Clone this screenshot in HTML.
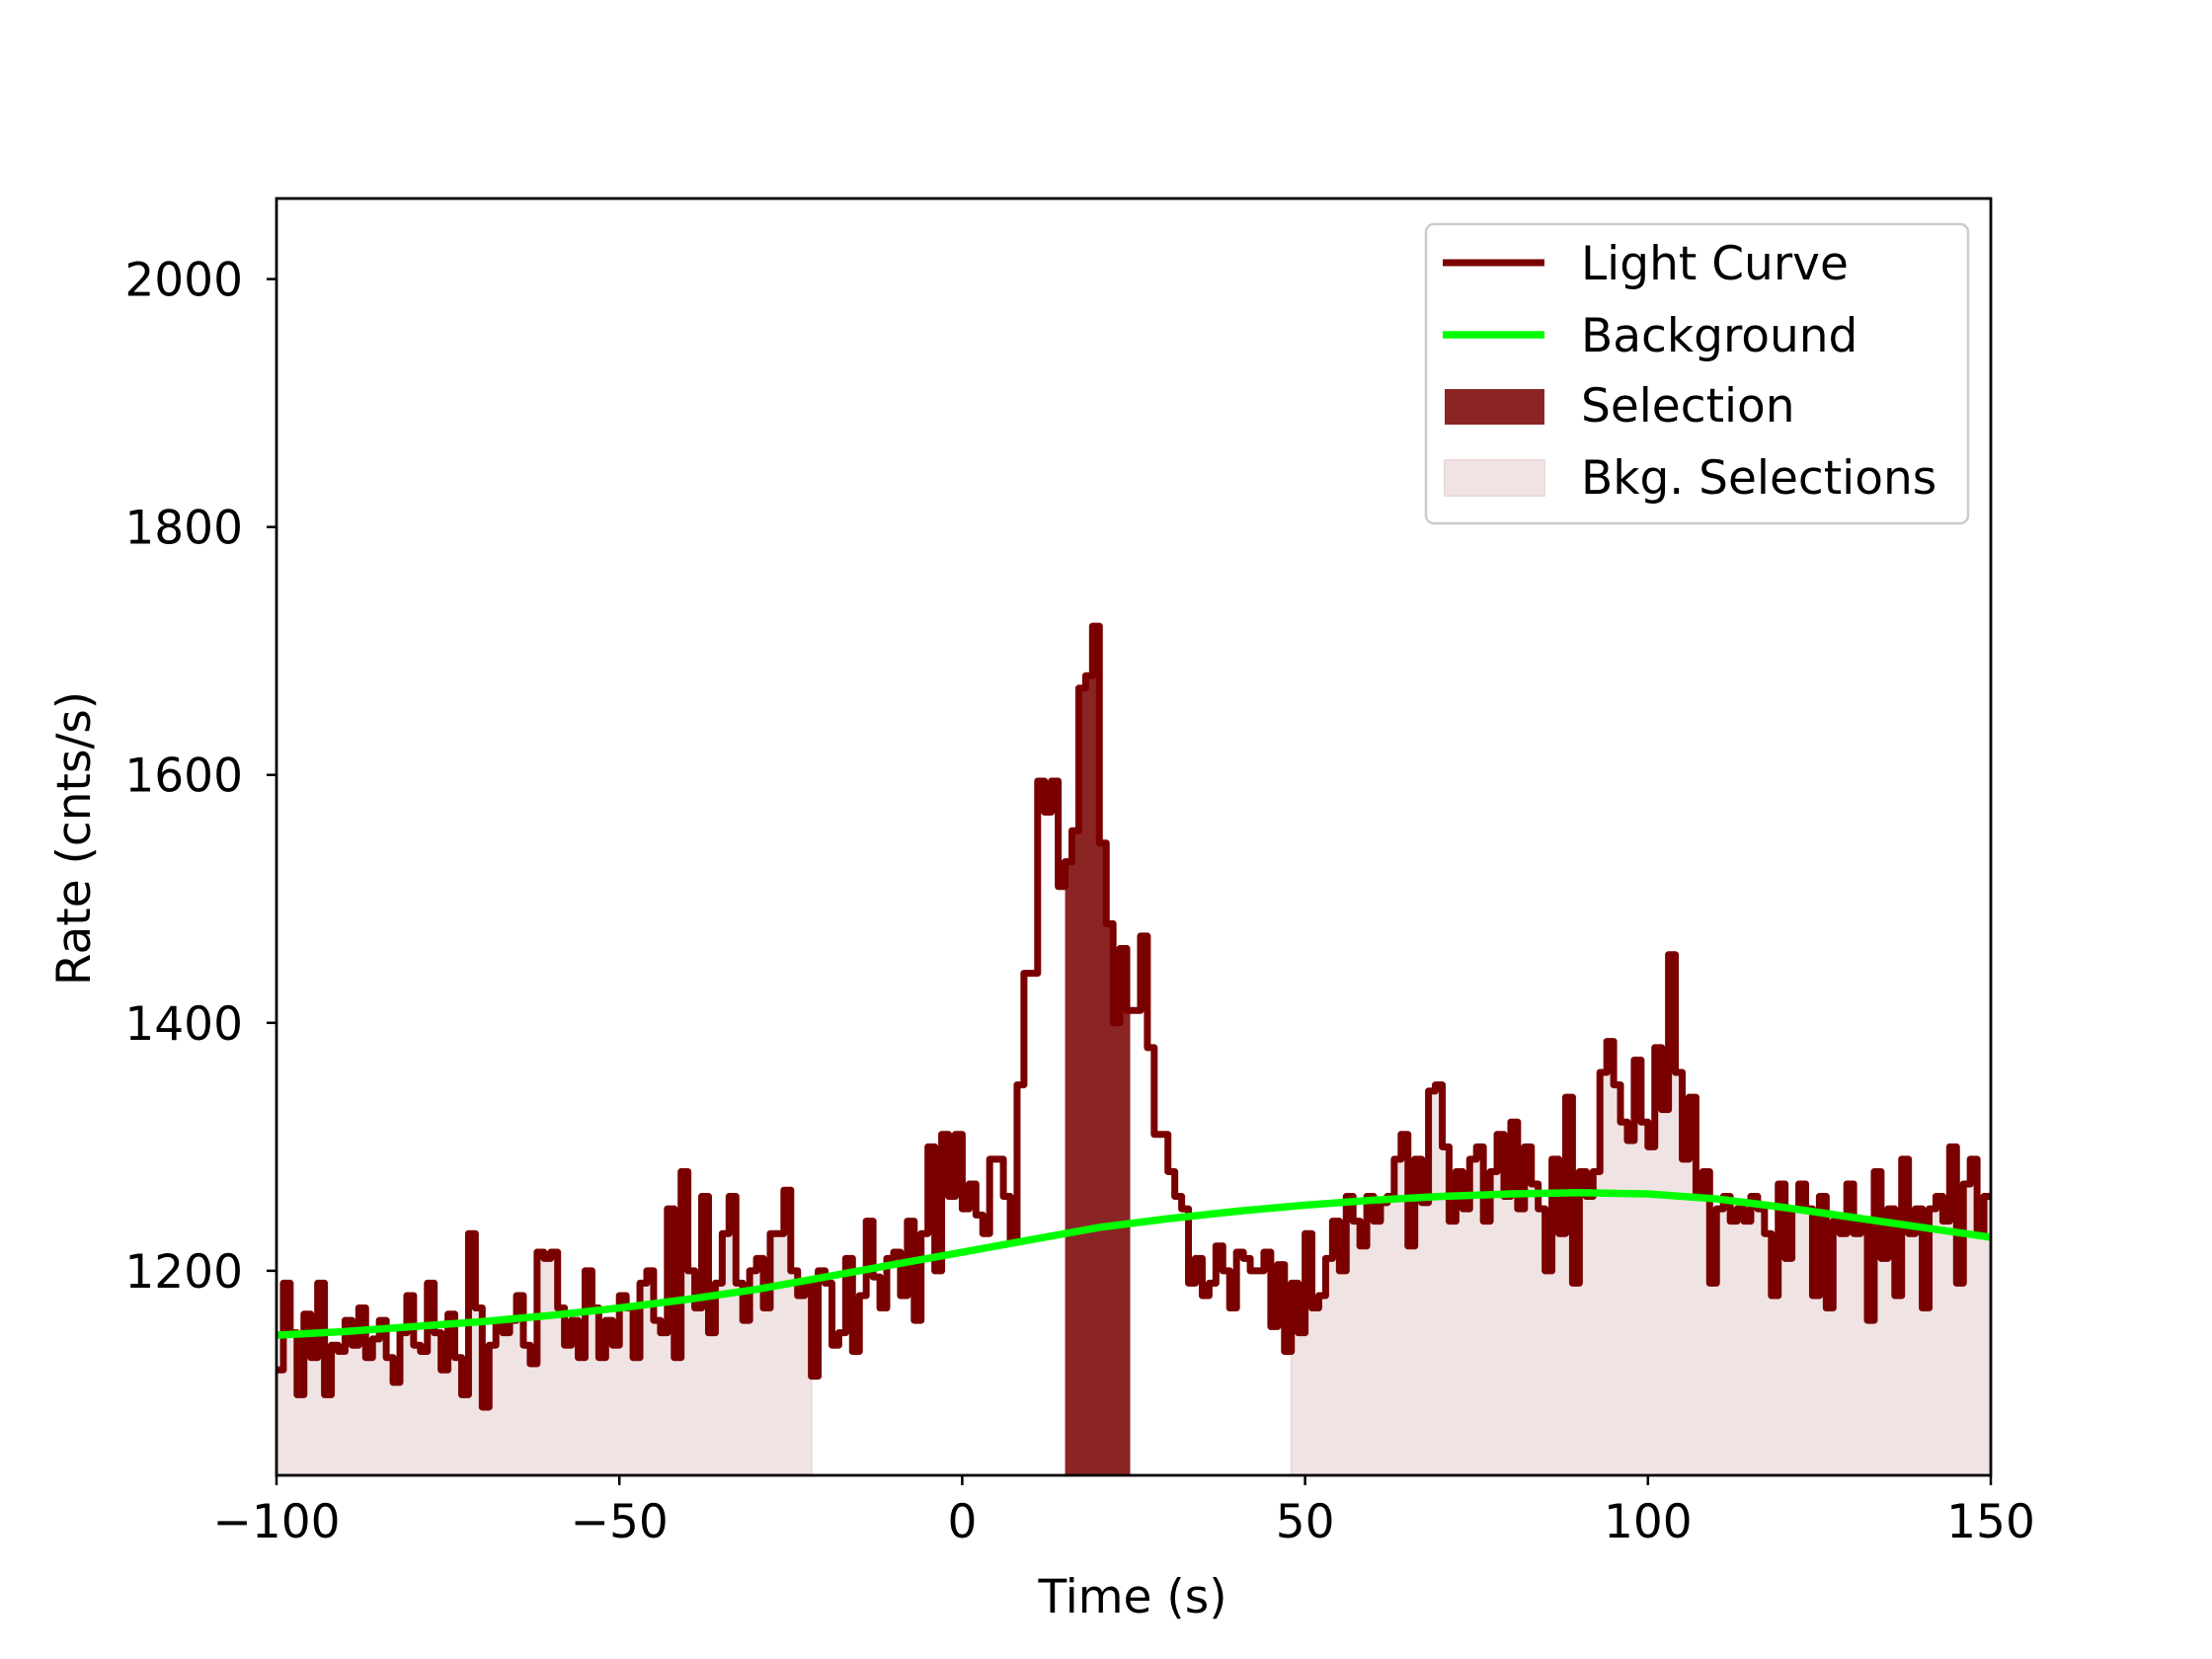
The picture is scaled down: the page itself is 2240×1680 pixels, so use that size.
<!DOCTYPE html>
<html><head><meta charset="utf-8"><style>
body{margin:0;background:#fff;}
svg{display:block;font-family:"DejaVu Sans","Liberation Sans",sans-serif;}
</style></head><body>
<svg id="chart" width="2240" height="1680" viewBox="0 0 2240 1680">
<rect width="2240" height="1680" fill="#fff"/>
<g id="plot"></g>
</svg>
<script>
const binStart = -100;
const binWidth = 1;
const rates = [
1120,1190,1150,1100,1165,1130,1190,1100,1140,1135,
1160,1140,1170,1130,1145,1160,1130,1110,1150,1180,
1140,1135,1190,1150,1120,1165,1130,1100,1230,1170,
1090,1140,1160,1150,1160,1180,1140,1125,1215,1210,
1215,1170,1140,1160,1130,1200,1170,1130,1160,1140,
1180,1170,1130,1190,1200,1160,1150,1250,1130,1280,
1200,1170,1260,1150,1190,1230,1260,1190,1160,1200,
1210,1170,1230,1230,1265,1200,1180,1190,1115,1200,
1190,1140,1150,1210,1135,1180,1240,1195,1170,1210,
1215,1180,1240,1160,1230,1300,1200,1310,1260,1310,
1250,1270,1245,1230,1290,1290,1260,1225,1350,1440,
1440,1595,1570,1595,1510,1530,1555,1670,1680,1720,
1545,1480,1400,1460,1410,1410,1470,1380,1310,1310,
1280,1260,1250,1190,1210,1180,1190,1220,1200,1170,
1215,1210,1200,1200,1215,1155,1205,1135,1190,1150,
1230,1170,1180,1210,1240,1200,1260,1240,1220,1260,
1240,1255,1260,1290,1310,1220,1290,1255,1345,1350,
1300,1240,1280,1250,1290,1300,1240,1280,1310,1260,
1320,1250,1300,1270,1250,1200,1290,1230,1340,1190,
1280,1260,1280,1360,1385,1350,1320,1305,1370,1320,
1300,1380,1330,1455,1360,1290,1340,1260,1280,1190,
1250,1260,1240,1250,1240,1260,1250,1230,1180,1270,
1210,1250,1270,1250,1180,1260,1170,1240,1230,1270,
1230,1240,1160,1280,1210,1250,1180,1290,1230,1250,
1170,1250,1260,1240,1300,1190,1270,1290,1230,1260];
const bkgTimes = [-100,-90,-80,-70,-60,-50,-40,-30,-20,-10,0,10,20,30,40,50,60,70,80,90,100,110,120,130,140,150];
const bkgRates = [1148,1151,1155,1159,1164,1170,1177,1185,1195,1205,1215,1225,1235,1242,1248,1253,1257,1260,1262,1263,1262,1258,1251,1243,1235,1227];
const selection = [15,24.5];
const bkgSelections = [[-100,-22],[48,150]];
const xTicks = [-100,-50,0,50,100,150];
const yTicks = [1200,1400,1600,1800,2000];

const L=280,R=2016,T=201,B=1494,X0=-100,X1=150,Y0=1035,Y1=2065;
const xs=v=>L+(v-X0)/(X1-X0)*(R-L);
const ys=v=>B-(v-Y0)/(Y1-Y0)*(B-T);
const NS='http://www.w3.org/2000/svg';
const plot=document.getElementById('plot');
function mk(tag,attrs,parent){const e=document.createElementNS(NS,tag);for(const k in attrs)e.setAttribute(k,attrs[k]);(parent||plot).appendChild(e);return e;}

function fillPath(a,b){
  let d='M'+xs(a)+','+B;
  for(let i=0;i<rates.length;i++){
    const t0=binStart+i*binWidth,t1=t0+binWidth;
    const s=Math.max(t0,a),e=Math.min(t1,b);
    if(e<=s)continue;
    d+=' L'+xs(s)+','+ys(rates[i])+' L'+xs(e)+','+ys(rates[i]);
  }
  return d+' L'+xs(b)+','+B+' Z';
}
bkgSelections.forEach(r=>{
  const p=mk('path',{d:fillPath(r[0],r[1]),fill:'#f0e3e3',stroke:'#ecd9da','stroke-width':2});
  
  
});
const sel=mk('path',{d:fillPath(selection[0],selection[1]),fill:'#8b2525'});



let d='';
for(let i=0;i<rates.length;i++){
  const t0=binStart+i*binWidth,t1=t0+binWidth;
  d+=(i?' L':'M')+xs(t0)+','+ys(rates[i])+' L'+xs(t1)+','+ys(rates[i]);
}
const lc=mk('path',{d:d,fill:'none',stroke:'#7a0000','stroke-width':7,'stroke-linejoin':'round'});



const bg=mk('polyline',{points:bkgTimes.map((t,i)=>xs(t)+','+ys(bkgRates[i])).join(' '),fill:'none',stroke:'#00ff00','stroke-width':7.5});



const frame=mk('rect',{x:L,y:T,width:R-L,height:B-T,fill:'none',stroke:'#000','stroke-width':2.8});



xTicks.forEach(v=>{
  const x=xs(v);
  const tk=mk('line',{x1:x,y1:B,x2:x,y2:B+10,stroke:'#000','stroke-width':2.5});
  
  
  const tx=mk('text',{x:x,y:B+63,'text-anchor':'middle','font-size':47});
  tx.textContent=(v<0?'\u2212'+(-v):v);
  
  
});
yTicks.forEach(v=>{
  const y=ys(v);
  const tk=mk('line',{x1:L-10,y1:y,x2:L,y2:y,stroke:'#000','stroke-width':2.5});
  
  
  const tx=mk('text',{x:L-34,y:y+17,'text-anchor':'end','font-size':47});
  tx.textContent=v;
  
  
});
const xl=mk('text',{x:1147,y:1633,'text-anchor':'middle','font-size':47});
xl.textContent='Time (s)';


const yl=mk('text',{x:0,y:0,'text-anchor':'middle','font-size':47,transform:'translate(91,849) rotate(-90)'});
yl.textContent='Rate (cnts/s)';



const lg=mk('g',{});


mk('rect',{x:1444,y:227,width:549,height:303,rx:8,fill:'#fff','fill-opacity':0.8,stroke:'#ccc','stroke-width':2.5},lg);
const entries=[['Light Curve',266],['Background',339],['Selection',410],['Bkg. Selections',483]];
const l1=mk('line',{x1:1461,y1:266,x2:1564,y2:266,stroke:'#7a0000','stroke-width':7},lg);


const l2=mk('line',{x1:1461,y1:339,x2:1564,y2:339,stroke:'#00ff00','stroke-width':7.5},lg);


const l3=mk('rect',{x:1463,y:394,width:101,height:36,fill:'#8b2525'},lg);


const l4=mk('rect',{x:1463,y:466,width:101,height:36,fill:'#f0e3e3',stroke:'#ecd9da','stroke-width':2},lg);


entries.forEach(e=>{
  const t=mk('text',{x:1601,y:e[1]+17,'font-size':47},lg);
  t.textContent=e[0];
  
  
});
</script>
</body></html>
